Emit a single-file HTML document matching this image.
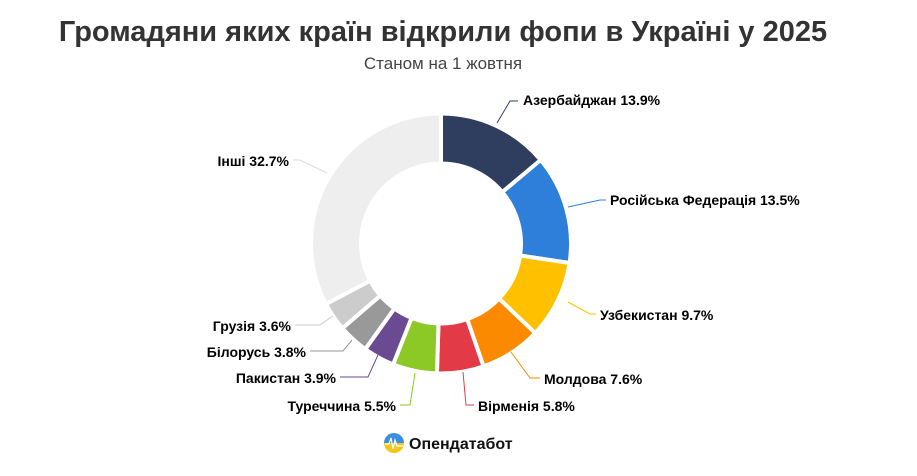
<!DOCTYPE html>
<html><head><meta charset="utf-8"><style>
body{margin:0;background:#fff;width:917px;height:471px;overflow:hidden;font-family:"Liberation Sans",sans-serif}
</style></head><body>
<svg width="917" height="471" xmlns="http://www.w3.org/2000/svg" font-family="Liberation Sans, sans-serif">
<text x="443" y="41" text-anchor="middle" font-size="29" font-weight="bold" fill="#333">Громадяни яких країн відкрили фопи в Україні у 2025</text>
<text x="443" y="69" text-anchor="middle" font-size="17" fill="#444">Станом на 1 жовтня</text>
<g id="d" stroke="#fff" stroke-width="4" stroke-linejoin="round"></g>
<g fill="none" stroke-width="1">
<polyline points="497,123 510,101 518,101" stroke="#2f3e5e"/>
<polyline points="568,207 600,200 606,200" stroke="#2d7fd9"/>
<polyline points="568,302 590,314 596,314" stroke="#ffc000"/>
<polyline points="511,352 530,378 540,378" stroke="#fb8a00"/>
<polyline points="463,372 466,405 474,405" stroke="#e33a47"/>
<polyline points="415,373 410,405 400,405" stroke="#8cc826"/>
<polyline points="378,355 368,377 340,377" stroke="#6a4b92"/>
<polyline points="352,340 343,351 310,351" stroke="#999"/>
<polyline points="333,316 320,325 295,325" stroke="#ccc"/>
<polyline points="327,173 300,160 293,160" stroke="#ddd"/>
</g>
<g font-size="14" font-weight="bold" fill="#000">
<text x="523" y="105">Азербайджан 13.9%</text>
<text x="610" y="205">Російська Федерація 13.5%</text>
<text x="600" y="320">Узбекистан 9.7%</text>
<text x="544" y="384">Молдова 7.6%</text>
<text x="478" y="411">Вірменія 5.8%</text>
<text x="396" y="411" text-anchor="end">Туреччина 5.5%</text>
<text x="336" y="383" text-anchor="end">Пакистан 3.9%</text>
<text x="306" y="357" text-anchor="end">Білорусь 3.8%</text>
<text x="291" y="331" text-anchor="end">Грузія 3.6%</text>
<text x="289" y="166" text-anchor="end">Інші 32.7%</text>
</g>
<defs><linearGradient id="g" x1="0" y1="0" x2="0" y2="1"><stop offset="0.5" stop-color="#3b8fe0"/><stop offset="0.5" stop-color="#f5c518"/></linearGradient></defs>
<circle cx="394" cy="443" r="10" fill="url(#g)"/>
<polyline points="385,444 389,444 391,438 393,449 395,440 397,446 403,446" fill="none" stroke="#fff" stroke-width="1.2"/>
<text x="409" y="449" font-size="16" font-weight="bold" fill="#111">Опендатабот</text>
</svg>
<script>
var data=[[13.9,"#2f3e5e"],[13.5,"#2d7fd9"],[9.7,"#ffc000"],[7.6,"#fb8a00"],[5.8,"#e33a47"],[5.5,"#8cc826"],[3.9,"#6a4b92"],[3.8,"#999999"],[3.6,"#cccccc"],[32.7,"#eeeeee"]];
var cx=441,cy=243.5,R=130,r=80,a=0,g=document.getElementById("d"),s="";
function p(rad,ang){return [cx+rad*Math.sin(ang),cy-rad*Math.cos(ang)];}
data.forEach(function(d){var a0=a*Math.PI/50,a1=(a+d[0])*Math.PI/50;a+=d[0];
var lg=(a1-a0)>Math.PI?1:0,A=p(R,a0),B=p(R,a1),C=p(r,a1),D=p(r,a0);
s+='<path fill="'+d[1]+'" d="M'+A+' A'+R+','+R+' 0 '+lg+' 1 '+B+' L'+C+' A'+r+','+r+' 0 '+lg+' 0 '+D+' Z"/>';});
g.innerHTML=s;
</script>
</body></html>
